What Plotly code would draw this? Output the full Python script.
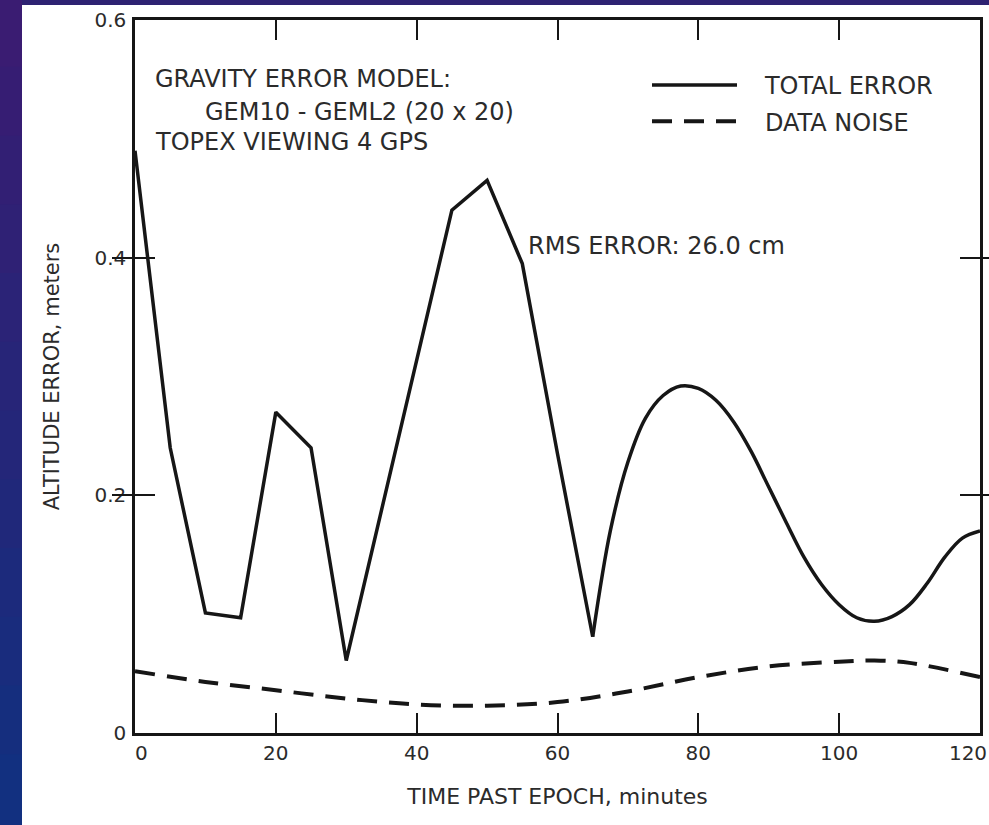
import plotly.graph_objects as go

# ---- data ----
time_sharp = [0, 5, 10, 15, 20, 25, 30, 40, 45, 50, 55, 60, 65]
err_sharp = [0.49, 0.24, 0.101, 0.097, 0.27, 0.24, 0.061, 0.314, 0.44, 0.465, 0.395, 0.235, 0.081]

time_smooth = [65, 67.5, 70, 72.5, 75, 77.5, 80, 82.5, 85, 87.5, 90, 92.5, 95, 97.5,
               100, 102.5, 105, 107.5, 110, 112.5, 115, 117.5, 120]
err_smooth = [0.081, 0.17, 0.228, 0.265, 0.284, 0.292, 0.290, 0.280, 0.262, 0.237, 0.207, 0.177,
              0.148, 0.125, 0.108, 0.097, 0.094, 0.098, 0.108, 0.126, 0.148, 0.164, 0.17]

time_noise = [0, 10, 20, 30, 40, 50, 60, 70, 80, 90, 100, 105, 110, 120]
noise = [0.052, 0.043, 0.036, 0.029, 0.024, 0.023, 0.026, 0.035, 0.047, 0.056, 0.060, 0.061, 0.059, 0.047]

NB = "\u00a0"
x_ticks = [0, 20, 40, 60, 80, 100, 120]
x_tick_text = [NB * 2 + "0", "20", "40", "60", "80", "100", ""]
x_end_tick = [120]
x_end_text = ["120"]
y_ticks = [0, 0.2, 0.4, 0.6]
y_tick_text = ["0", "0.2", "0.4", "0.6"]

INK = "#161616"
TXT = "#2b2b2b"
FONT = "DejaVu Sans"

fig = go.Figure()
fig.add_trace(go.Scatter(x=time_sharp, y=err_sharp, mode="lines", name=NB * 3 + "TOTAL ERROR",
                         legendgroup="a", line=dict(color=INK, width=3.5, shape="linear")))
fig.add_trace(go.Scatter(x=time_smooth, y=err_smooth, mode="lines", showlegend=False,
                         legendgroup="a", line=dict(color=INK, width=3.5, shape="spline", smoothing=1.0)))
fig.add_trace(go.Scatter(x=time_noise, y=noise, mode="lines", name=NB * 3 + "DATA NOISE",
                         xaxis="x2", yaxis="y",
                         legendgroup="b", line=dict(color=INK, width=4, shape="spline", dash="20px,12px")))

W, H = 989, 825
L, R, T, B = 135, 9, 20, 92
pw, ph = W - L - R, H - T - B

def px2paper_x(px):
    return (px - L) / pw

def px2paper_y(py):
    return (H - B - py) / ph

shapes = []
# left gradient strip (decorative slide background)
top_c = (58, 28, 114)
bot_c = (18, 48, 128)
n = 12
for i in range(n):
    f = i / (n - 1)
    c = tuple(int(top_c[k] + (bot_c[k] - top_c[k]) * f) for k in range(3))
    shapes.append(dict(type="rect", xref="paper", yref="paper", layer="below",
                       x0=px2paper_x(-2), x1=px2paper_x(22),
                       y0=px2paper_y(H * (i + 1) / n + 2), y1=px2paper_y(H * i / n - 2),
                       fillcolor="rgb(%d,%d,%d)" % c, line=dict(width=0)))
# white page
shapes.append(dict(type="rect", xref="paper", yref="paper", layer="below",
                   x0=px2paper_x(22), x1=px2paper_x(W + 5),
                   y0=px2paper_y(H + 5), y1=px2paper_y(5),
                   fillcolor="white", line=dict(width=0)))

annots = [
    dict(x=2.6, y=0.550, text="GRAVITY ERROR MODEL:"),
    dict(x=9.7, y=0.523, text="GEM10 - GEML2 (20 x 20)"),
    dict(x=2.6, y=0.4975, text="TOPEX VIEWING 4 GPS"),
    dict(x=55.5, y=0.41, text="RMS ERROR: 26.0 cm"),
]
annotations = [dict(xref="x", yref="y", x=a["x"], y=a["y"], text=a["text"], showarrow=False,
                    xanchor="left", yanchor="middle", font=dict(family=FONT, size=24, color=TXT))
               for a in annots]

axis_common = dict(showline=True, linecolor=INK, linewidth=2.5, mirror="allticks",
                   ticks="inside", ticklen=20, tickwidth=2, tickcolor=INK,
                   showgrid=False, zeroline=False,
                   tickfont=dict(family=FONT, size=20, color=TXT))

fig.update_layout(
    width=W, height=H,
    margin=dict(l=L, r=R, t=T, b=B, autoexpand=False),
    paper_bgcolor="#2e2272",
    plot_bgcolor="white",
    shapes=shapes,
    annotations=annotations,
    showlegend=True,
    legend=dict(x=px2paper_x(647), y=px2paper_y(63), xanchor="left", yanchor="top",
                bgcolor="rgba(0,0,0,0)", itemwidth=85, tracegroupgap=2,
                font=dict(family=FONT, size=24, color=TXT)),
    xaxis=dict(range=[0, 120], tickvals=x_ticks, ticktext=x_tick_text, ticklabelstandoff=0,
               title=dict(text="TIME PAST EPOCH, minutes", standoff=25,
                          font=dict(family=FONT, size=22, color=TXT)),
               **axis_common),
    xaxis2=dict(range=[0, 120], overlaying="x", side="bottom", matches="x",
                tickvals=x_end_tick, ticktext=x_end_text, ticklabelshift=-12,
                ticklabelstandoff=6, ticklabeloverflow="allow",
                ticks="", showline=False, showgrid=False, zeroline=False,
                tickfont=dict(family=FONT, size=20, color=TXT)),
    yaxis=dict(range=[0, 0.6], tickvals=y_ticks, ticktext=y_tick_text, ticklabelstandoff=2,
               title=dict(text="ALTITUDE ERROR, meters", standoff=30,
                          font=dict(family=FONT, size=21, color=TXT)),
               **axis_common),
)

fig.write_html("out.html", config={"displayModeBar": False},
               post_script="document.body.style.margin='0px';")
